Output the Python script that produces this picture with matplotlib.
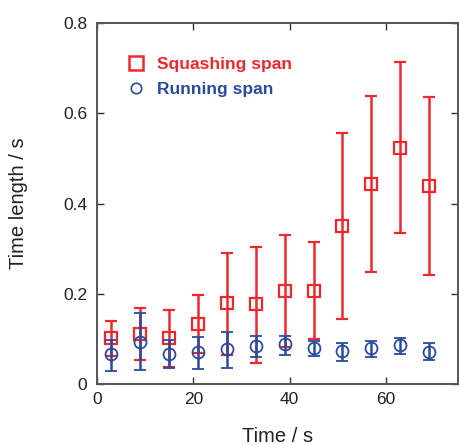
import matplotlib
matplotlib.use("Agg")
import matplotlib.pyplot as plt
from matplotlib.lines import Line2D

plt.rcParams['font.family'] = ['Liberation Sans', 'DejaVu Sans']

# time bins (s)
time = [3, 9, 15, 21, 27, 33, 39, 45, 51, 57, 63, 69]

# squashing span: mean, upper end, lower end of error bar
squash = [0.103, 0.112, 0.103, 0.134, 0.179, 0.177, 0.207, 0.207, 0.351, 0.444, 0.523, 0.439]
squash_hi = [0.140, 0.169, 0.164, 0.197, 0.290, 0.303, 0.330, 0.315, 0.557, 0.638, 0.714, 0.636]
squash_lo = [0.063, 0.053, 0.037, 0.068, 0.064, 0.047, 0.083, 0.100, 0.144, 0.249, 0.334, 0.241]

# running span
run = [0.066, 0.094, 0.066, 0.071, 0.077, 0.084, 0.088, 0.079, 0.073, 0.079, 0.086, 0.072]
run_hi = [0.097, 0.158, 0.097, 0.105, 0.115, 0.107, 0.107, 0.095, 0.091, 0.095, 0.101, 0.091]
run_lo = [0.029, 0.031, 0.035, 0.033, 0.036, 0.060, 0.065, 0.062, 0.052, 0.059, 0.067, 0.053]

red = '#EC2A2E'
blue = '#2A4B9E'

fig = plt.figure(figsize=(4.59, 4.45), dpi=100)
ax = fig.add_axes([0.2113, 0.137, 0.7865, 0.811])

sq_err = [[m - l for m, l in zip(squash, squash_lo)], [h - m for m, h in zip(squash, squash_hi)]]
rn_err = [[m - l for m, l in zip(run, run_lo)], [h - m for m, h in zip(run, run_hi)]]

ax.errorbar(time, squash, yerr=sq_err, fmt='s', color=red, ecolor=red,
            mfc='none', mec=red, ms=8.6, mew=1.6, elinewidth=1.8,
            capsize=4.3, capthick=1.8, zorder=3)
ax.errorbar(time, run, yerr=rn_err, fmt='o', color=blue, ecolor=blue,
            mfc='none', mec=blue, ms=8.6, mew=1.3, elinewidth=1.8,
            capsize=4.3, capthick=1.8, zorder=4)

ax.set_xlim(0, 75)
ax.set_ylim(0, 0.8)
ax.set_xticks([0, 20, 40, 60])
ax.set_yticks([0, 0.2, 0.4, 0.6, 0.8])
ax.set_yticklabels(['0', '0.2', '0.4', '0.6', '0.8'])

ax.tick_params(direction='in', top=True, right=True, length=5, width=1.0,
               color='#333333', labelsize=12.5, labelcolor='#222222')
ax.tick_params(axis='x', pad=6)
ax.tick_params(axis='y', pad=7)
for s in ax.spines.values():
    s.set_color('#555555')
    s.set_linewidth(1.4)

ax.set_xlabel('Time / s', fontsize=14.5, color='#222222', labelpad=14)
ax.set_ylabel('Time length / s', fontsize=14.5, color='#222222', labelpad=25)

handles = [
    Line2D([], [], marker='s', ls='none', mfc='none', mec=red, ms=9.5, mew=1.8),
    Line2D([], [], marker='o', ls='none', mfc='none', mec=blue, ms=7.5, mew=1.2),
]
leg = ax.legend(handles, ['Squashing span', 'Running span'], loc='upper left',
                bbox_to_anchor=(0.0645, 0.9266), frameon=False, handlelength=1.0,
                handletextpad=0.7, labelspacing=0.58,
                prop={'size': 12.5, 'weight': 'bold'}, borderaxespad=0)
for t, c in zip(leg.get_texts(), [red, blue]):
    t.set_color(c)

fig.savefig('out.png', dpi=100)
